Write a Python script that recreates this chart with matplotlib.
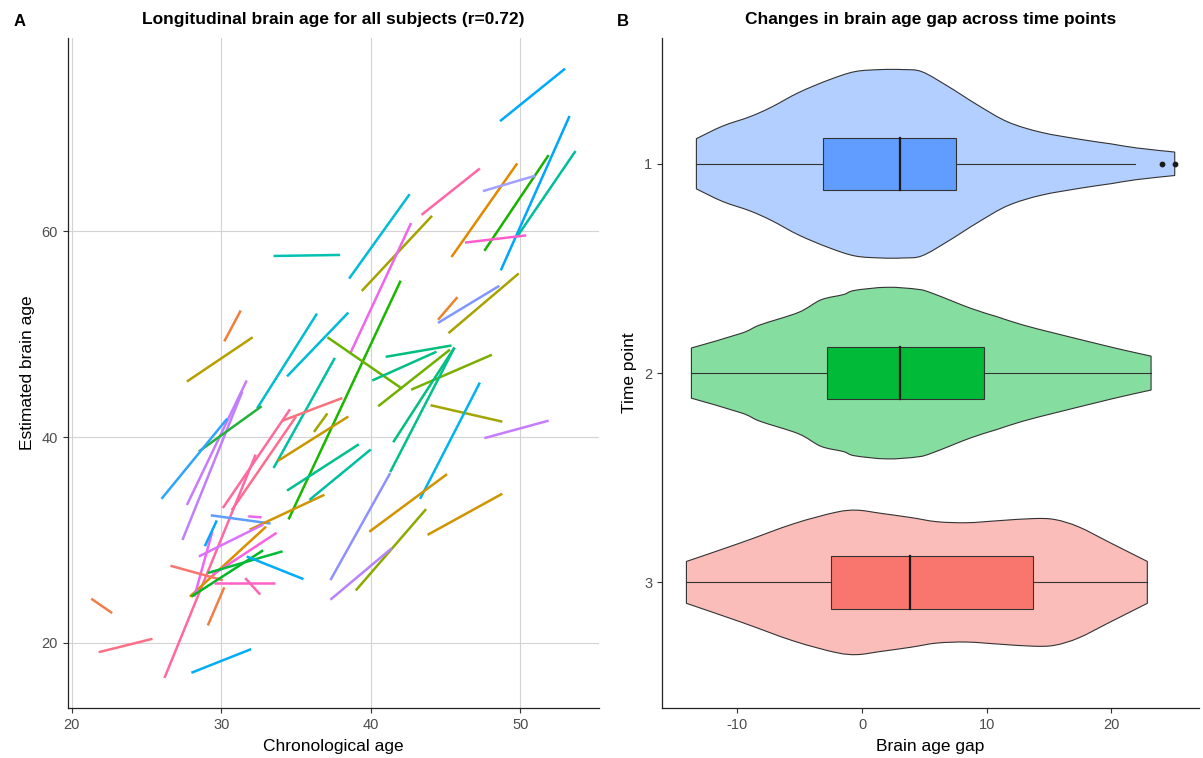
import numpy as np
import matplotlib
matplotlib.use("Agg")
import matplotlib.pyplot as plt
from matplotlib.path import Path
from matplotlib.patches import PathPatch

plt.rcParams['font.family'] = ['Liberation Sans', 'DejaVu Sans']
plt.rcParams['axes.unicode_minus'] = False

# ---- panel A: one segment per subject (time point 1 -> time point 2)
age_t1 = [48.65, 48.7, 49.8, 47.6, 45.4, 47.5, 46.3, 43.4, 38.55, 39.4, 38.65, 34.5, 44.5, 44.5,
          45.2, 37.1, 41.0, 40.1, 40.5, 42.7, 41.5, 41.3, 37.3, 44.0, 43.3, 47.6, 39.9, 43.8,
          39.0, 37.3, 33.5, 30.2, 27.7, 27.7, 27.4, 32.4, 34.4, 28.5, 26.0, 33.5, 34.1, 30.1,
          30.7, 26.2, 29.3, 31.8, 27.9, 31.9, 28.5, 28.2, 29.4, 28.9, 26.6, 28.0, 29.1, 31.7,
          29.5, 31.6, 29.1, 28.0, 21.8, 21.3, 34.4, 35.9, 33.8, 36.2]
age_t2 = [53.0, 53.3, 53.7, 51.9, 49.8, 51.0, 50.4, 47.3, 42.6, 44.1, 42.7, 42.0, 45.8, 48.6,
          49.9, 42.1, 45.4, 44.4, 45.3, 48.1, 45.6, 45.6, 41.3, 48.8, 47.3, 51.9, 45.1, 48.8,
          43.7, 41.4, 37.95, 31.3, 32.1, 31.7, 31.4, 36.4, 38.5, 32.7, 30.4, 37.6, 38.1, 34.6,
          35.0, 32.3, 33.3, 32.7, 33.0, 36.9, 32.8, 29.4, 33.7, 29.7, 30.1, 32.8, 34.1, 35.5,
          33.6, 32.6, 30.2, 32.0, 25.4, 22.7, 39.2, 40.0, 38.5, 37.1]
brain_t1 = [70.7, 56.2, 59.5, 58.1, 57.5, 63.9, 58.9, 61.6, 55.4, 54.2, 48.2, 32.0, 51.4, 51.1,
            50.1, 49.7, 47.8, 45.5, 43.0, 44.6, 39.5, 36.6, 26.1, 43.1, 34.0, 39.9, 30.8, 30.5,
            25.1, 24.2, 57.6, 49.3, 45.4, 33.4, 30.0, 42.8, 45.9, 38.6, 34.0, 37.0, 41.6, 33.1,
            32.9, 16.6, 32.4, 32.3, 24.5, 31.0, 28.4, 24.5, 26.6, 29.4, 27.5, 24.5, 26.8, 28.4,
            25.8, 26.3, 21.7, 17.1, 19.1, 24.3, 34.8, 33.9, 37.7, 40.5]
brain_t2 = [75.8, 71.2, 67.8, 67.4, 66.6, 65.4, 59.6, 66.1, 63.6, 61.5, 60.8, 55.2, 53.6, 54.7,
            55.9, 44.7, 48.9, 48.3, 48.5, 48.0, 48.7, 48.7, 36.5, 41.5, 45.3, 41.6, 36.4, 34.5,
            33.0, 29.2, 57.7, 52.3, 49.7, 45.5, 44.4, 52.0, 52.1, 43.0, 41.8, 47.7, 43.8, 42.7,
            42.0, 38.3, 31.6, 32.2, 31.3, 34.4, 31.5, 30.8, 30.7, 31.9, 26.1, 29.0, 28.9, 26.2,
            25.8, 24.7, 25.4, 19.4, 20.4, 22.9, 39.3, 38.8, 42.0, 42.3]
subject_colours = ['#00A9FF', '#00A5FF', '#00BE9C', '#19B200', '#E38900', '#A3A0FF', '#FF5FCC',
                   '#FF66A8', '#00BCD6', '#A5A300', '#F066EA', '#1AB600', '#E9842C', '#7E98FF',
                   '#A8A300', '#6BB100', '#00BF7D', '#00BF85', '#72B000', '#7CAE00', '#00BF7D',
                   '#00C08B', '#8F91FF', '#A3A500', '#00B4EF', '#C77CFF', '#D39200', '#D09400',
                   '#8BAB00', '#B983FF', '#00C1B2', '#F17E3A', '#B79F00', '#C77CFF', '#BE80FF',
                   '#00BDD0', '#00BAD8', '#1FB33A', '#2FA4FF', '#00BFA4', '#FB727B', '#FF6A98',
                   '#FF6C91', '#FF68A1', '#5C9DFF', '#EE67E6', '#DA8E00', '#D39200', '#DB72FB',
                   '#EB69EF', '#F962DD', '#00A9FF', '#F8766D', '#00B81F', '#00BA38', '#00ADFA',
                   '#FF61C9', '#FF63B6', '#EE7E48', '#00AEF8', '#FD6F86', '#EF7F49', '#00C08D',
                   '#00BEA0', '#C79700', '#9DA700']

# ---- panel B: brain age gap per time point (violin outline + box summary)
time_points = [1, 2, 3]
tp_colours = ['#619CFF', '#00BA38', '#F8766D']
violin_x = [
    [-13.3, -11.2, -9.0, -7.3, -5.1, -2.7, -0.6, 1.5, 3.3, 4.8, 6.9, 9.3, 11.7, 14.4, 17.7, 20.0, 22.0, 25.1],
    [-13.7, -9.7, -8.2, -5.1, -3.3, -1.5, -0.6, 2.0, 4.5, 5.7, 8.7, 10.8, 12.9, 15.5, 18.9, 21.0, 23.2],
    [-14.1, -9.7, -5.5, -2.1, -0.4, 1.5, 3.9, 6.0, 8.4, 11.0, 13.8, 15.5, 17.4, 19.9, 22.9],
]
violin_hw = [
    [0.12, 0.18, 0.225, 0.27, 0.34, 0.40, 0.44, 0.45, 0.45, 0.44, 0.37, 0.28, 0.20, 0.15, 0.115, 0.095, 0.076, 0.056],
    [0.12, 0.19, 0.23, 0.29, 0.35, 0.375, 0.395, 0.41, 0.40, 0.38, 0.31, 0.27, 0.23, 0.19, 0.14, 0.11, 0.081],
    [0.10, 0.19, 0.28, 0.335, 0.345, 0.33, 0.31, 0.29, 0.285, 0.295, 0.305, 0.30, 0.265, 0.19, 0.10],
]
whisker_lo = [-13.3, -13.7, -14.1]
q1 = [-3.13, -2.84, -2.53]
median = [3.07, 3.04, 3.82]
q3 = [7.52, 9.75, 13.76]
whisker_hi = [21.95, 23.2, 22.9]
outliers = [[24.06, 25.1], [], []]


def smooth_curve(px, py):
    # catmull-rom through the read points, as cubic bezier pieces
    p = np.column_stack([px, py])
    ext = np.vstack([p[:1], p, p[-1:]])
    verts = [p[0]]
    codes = []
    for i in range(1, len(ext) - 2):
        c1 = ext[i] + (ext[i + 1] - ext[i - 1]) / 6
        c2 = ext[i + 1] - (ext[i + 2] - ext[i]) / 6
        verts += [c1, c2, ext[i + 1]]
        codes += [Path.CURVE4] * 3
    return verts, codes


def violin_path(vx, vh, tp):
    up_v, up_c = smooth_curve(vx, tp - vh)
    lo_v, lo_c = smooth_curve(vx[::-1], (tp + vh)[::-1])
    verts = up_v + lo_v + [up_v[0]]
    codes = [Path.MOVETO] + up_c + [Path.LINETO] + lo_c + [Path.CLOSEPOLY]
    return Path(verts, codes)


fig = plt.figure(figsize=(12.03, 7.58), dpi=100)
axA = fig.add_axes([0.0562, 0.066, 0.4421, 0.8836])
axB = fig.add_axes([0.5503, 0.066, 0.4465, 0.8836])

for a1, a2, b1, b2, c in zip(age_t1, age_t2, brain_t1, brain_t2, subject_colours):
    axA.plot([a1, a2], [b1, b2], color=c, lw=1.8, solid_capstyle='butt', zorder=3)

axA.set_xlim(19.72, 55.3)
axA.set_ylim(13.68, 78.76)
axA.set_xticks([20, 30, 40, 50])
axA.set_yticks([20, 40, 60])
axA.grid(True, color='#D3D3D3', lw=0.8, zorder=0)
axA.set_axisbelow(True)
axA.set_xlabel('Chronological age', fontsize=12.5, labelpad=5)
axA.set_ylabel('Estimated brain age', fontsize=12.5, labelpad=5)
axA.set_title('Longitudinal brain age for all subjects (r=0.72)', fontsize=12.5,
              fontweight='bold', pad=10)

for i, tp in enumerate(time_points):
    vx = np.array(violin_x[i])
    vh = np.array(violin_hw[i])
    vpath = violin_path(vx, vh, tp)
    axB.add_patch(PathPatch(vpath, facecolor=tp_colours[i], alpha=0.48, edgecolor='none', zorder=1))
    axB.add_patch(PathPatch(vpath, facecolor='none', edgecolor='#333333', lw=0.8, zorder=2))
    # whiskers
    axB.plot([whisker_lo[i], q1[i]], [tp, tp], color='#333333', lw=0.8, zorder=2)
    axB.plot([q3[i], whisker_hi[i]], [tp, tp], color='#333333', lw=0.8, zorder=2)
    # box
    axB.add_patch(plt.Rectangle((q1[i], tp - 0.125), q3[i] - q1[i], 0.25,
                                facecolor=tp_colours[i], edgecolor='#333333', lw=0.8, zorder=3))
    axB.plot([median[i], median[i]], [tp - 0.125, tp + 0.125], color='#1A1A1A', lw=1.6, zorder=4)
    if outliers[i]:
        axB.scatter(outliers[i], [tp] * len(outliers[i]), s=10, color='#1A1A1A', zorder=4)

axB.set_xlim(-16.06, 27.06)
axB.set_ylim(3.6, 0.4)
axB.set_yticks(time_points)
axB.set_yticklabels([str(t) for t in time_points])
axB.set_xticks([-10, 0, 10, 20])
axB.set_xlabel('Brain age gap', fontsize=12.5, labelpad=5)
axB.set_ylabel('Time point', fontsize=12.5, labelpad=5)
axB.set_title('Changes in brain age gap across time points', fontsize=12.5,
              fontweight='bold', pad=10)

for ax in (axA, axB):
    for s in ('top', 'right'):
        ax.spines[s].set_visible(False)
    for s in ('left', 'bottom'):
        ax.spines[s].set_linewidth(0.9)
        ax.spines[s].set_color('#222222')
    ax.tick_params(length=3.5, width=0.8, color='#333333', labelsize=10.5,
                   labelcolor='#4D4D4D')

fig.text(0.011, 0.966, 'A', fontsize=12, fontweight='bold')
fig.text(0.513, 0.966, 'B', fontsize=12, fontweight='bold')

fig.savefig('out.png', dpi=100)
